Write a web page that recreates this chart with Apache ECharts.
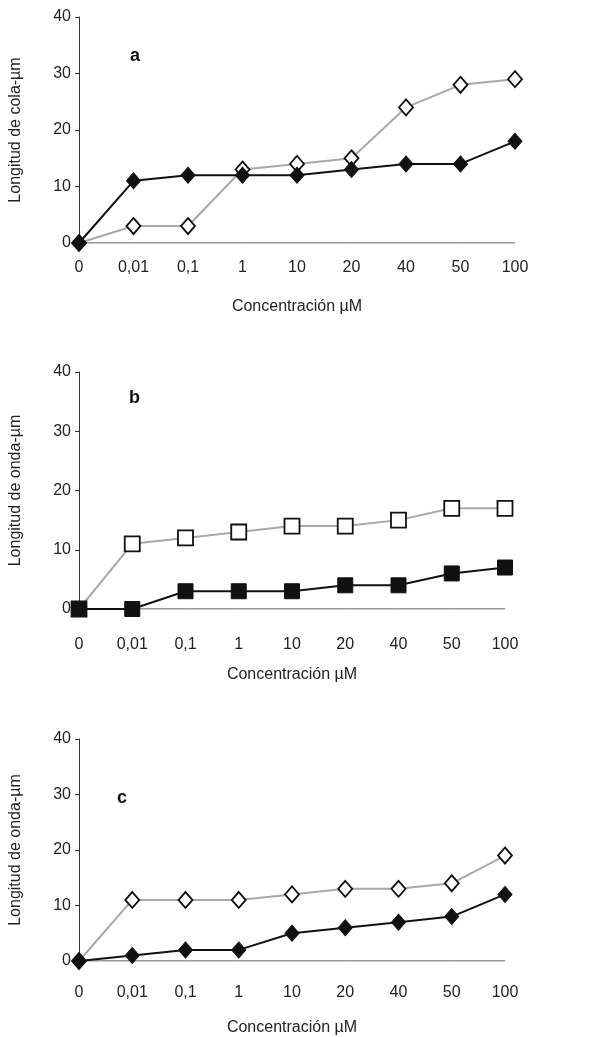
<!DOCTYPE html>
<html>
<head>
<meta charset="utf-8">
<script src="https://cdn.jsdelivr.net/npm/echarts@6/dist/echarts.min.js"></script>
<style>
html,body{margin:0;padding:0;background:#fff;}
#chart{width:597px;height:1037px;}
</style>
</head>
<body>
<div id="chart"></div>
<script>
const categories = ['0','0,01','0,1','1','10','20','40','50','100'];
const aGray  = [0,3,3,13,14,15,24,28,29];
const aBlack = [0,11,12,12,12,13,14,14,18];
const bGray  = [0,11,12,13,14,14,15,17,17];
const bBlack = [0,0,3,3,3,4,4,6,7];
const cGray  = [0,11,11,11,12,13,13,14,19];
const cBlack = [0,1,2,2,5,6,7,8,12];
const panelLetters = ['a','b','c'];
const yNames = ['Longitud de cola-µm','Longitud de onda-µm','Longitud de onda-µm'];
const xName = 'Concentración µM';

const FONT = 'Liberation Sans, Arial, sans-serif';
const grids = [
  {left:78, top:17, width:437, height:226},
  {left:77, top:372, width:428, height:237},
  {left:77, top:739, width:428, height:224}
];
const xLabelMargins = [17, 28, 24];
const xNameGaps = [56, 58, 59];

const xAxes = grids.map((g,i)=>({
  type:'category', gridIndex:i, data:categories, boundaryGap:false,
  axisLine:{show:false},
  axisTick:{show:false},
  axisLabel:{color:'#222', fontSize:16, fontFamily:FONT, margin:xLabelMargins[i]},
  name:xName, nameLocation:'middle', nameGap:xNameGaps[i],
  nameTextStyle:{color:'#222', fontSize:16, fontFamily:FONT}
}));
const yAxes = grids.map((g,i)=>({
  type:'value', gridIndex:i, min:0, max:40, interval:10,
  splitLine:{show:false},
  axisLine:{show:true, lineStyle:{color:'#333', width:1}},
  axisTick:{show:true, length:4, lineStyle:{color:'#333'}},
  axisLabel:{color:'#222', fontSize:16, fontFamily:FONT, margin:8},
  name:yNames[i], nameLocation:'middle', nameGap:55,
  nameTextStyle:{color:'#222', fontSize:16, fontFamily:FONT}
}));

function grayS(data, i, sym, size){
  return {type:'line', xAxisIndex:i, yAxisIndex:i, data:data, symbol:sym, symbolSize:size,
    showAllSymbol:true, z:2,
    lineStyle:{color:'#a8a8a8', width:2},
    itemStyle:{color:'#fff', borderColor:'#111', borderWidth:1.8}};
}
function blackS(data, i, sym, size){
  return {type:'line', xAxisIndex:i, yAxisIndex:i, data:data, symbol:sym, symbolSize:size,
    showAllSymbol:true, z:3,
    lineStyle:{color:'#111', width:2},
    itemStyle:{color:'#111', borderColor:'#111', borderWidth:1}};
}
// baseline at zero, drawn through the same scales
function baseS(i){
  return {type:'line', xAxisIndex:i, yAxisIndex:i, data:categories.map(()=>0), symbol:'none', z:1,
    lineStyle:{color:'#333', width:1}, silent:true};
}

const series = [
  baseS(0), grayS(aGray,0,'diamond',[14,16]), blackS(aBlack,0,'diamond',[14,16]),
  baseS(1), grayS(bGray,1,'rect',15), blackS(bBlack,1,'rect',15),
  baseS(2), grayS(cGray,2,'diamond',[14,16]), blackS(cBlack,2,'diamond',[14,16])
];

const chart = echarts.init(document.getElementById('chart'), null, {renderer:'canvas'});
const letterPos = [[130,47],[129,389],[117,789]];
chart.setOption({
  animation:false,
  backgroundColor:'#fff',
  grid:grids,
  xAxis:xAxes,
  yAxis:yAxes,
  series:series,
  graphic: panelLetters.map((t,i)=>({type:'text', left:letterPos[i][0], top:letterPos[i][1],
    style:{text:t, fontSize:18, fontWeight:'bold', fontFamily:FONT, fill:'#111'}}))
});
</script>
</body>
</html>
